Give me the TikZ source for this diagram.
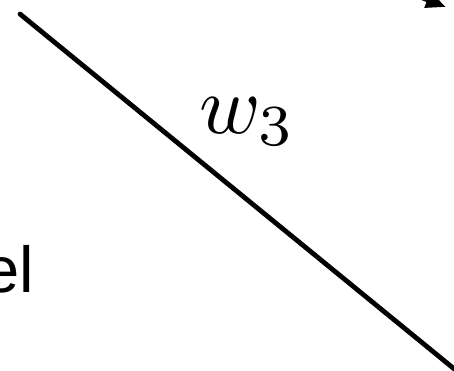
\documentclass[tikz,border=0pt]{standalone}
\usepackage{fontspec}
\setmainfont{Liberation Sans}
\usetikzlibrary{arrows.meta,positioning}

\tikzset{
    edge/.style={line width=4.8pt, line cap=round},
    lbl/.style={inner sep=0pt, font=\fontsize{65}{65}\selectfont}
}

\begin{document}
\begin{tikzpicture}[x=1pt, y=-1pt]
    \useasboundingbox (0,0) rectangle (454,370);
    \clip (0,0) rectangle (454,370);

    % Ends of the edges
    \coordinate (top) at (20,14);
    \coordinate (bot) at (458,372);
    \coordinate (src) at (392,-14);
    \coordinate (dst) at (446,7);

    % Edge
    \draw[edge] (top) -- (bot);

    % Weight of the edge
    \node[inner sep=0pt, anchor=base west] (wt) at (199,133) {\scalebox{8.3}{$w_3$}};

    % Arrow leaving the picture
    \draw[line width=4.8pt, -{Triangle[length=20pt,width=16pt]}] (src) -- (dst);

    % Cut-off word
    \node[lbl, anchor=base west] (word) at (-17,292) {el};
\end{tikzpicture}
\end{document}
